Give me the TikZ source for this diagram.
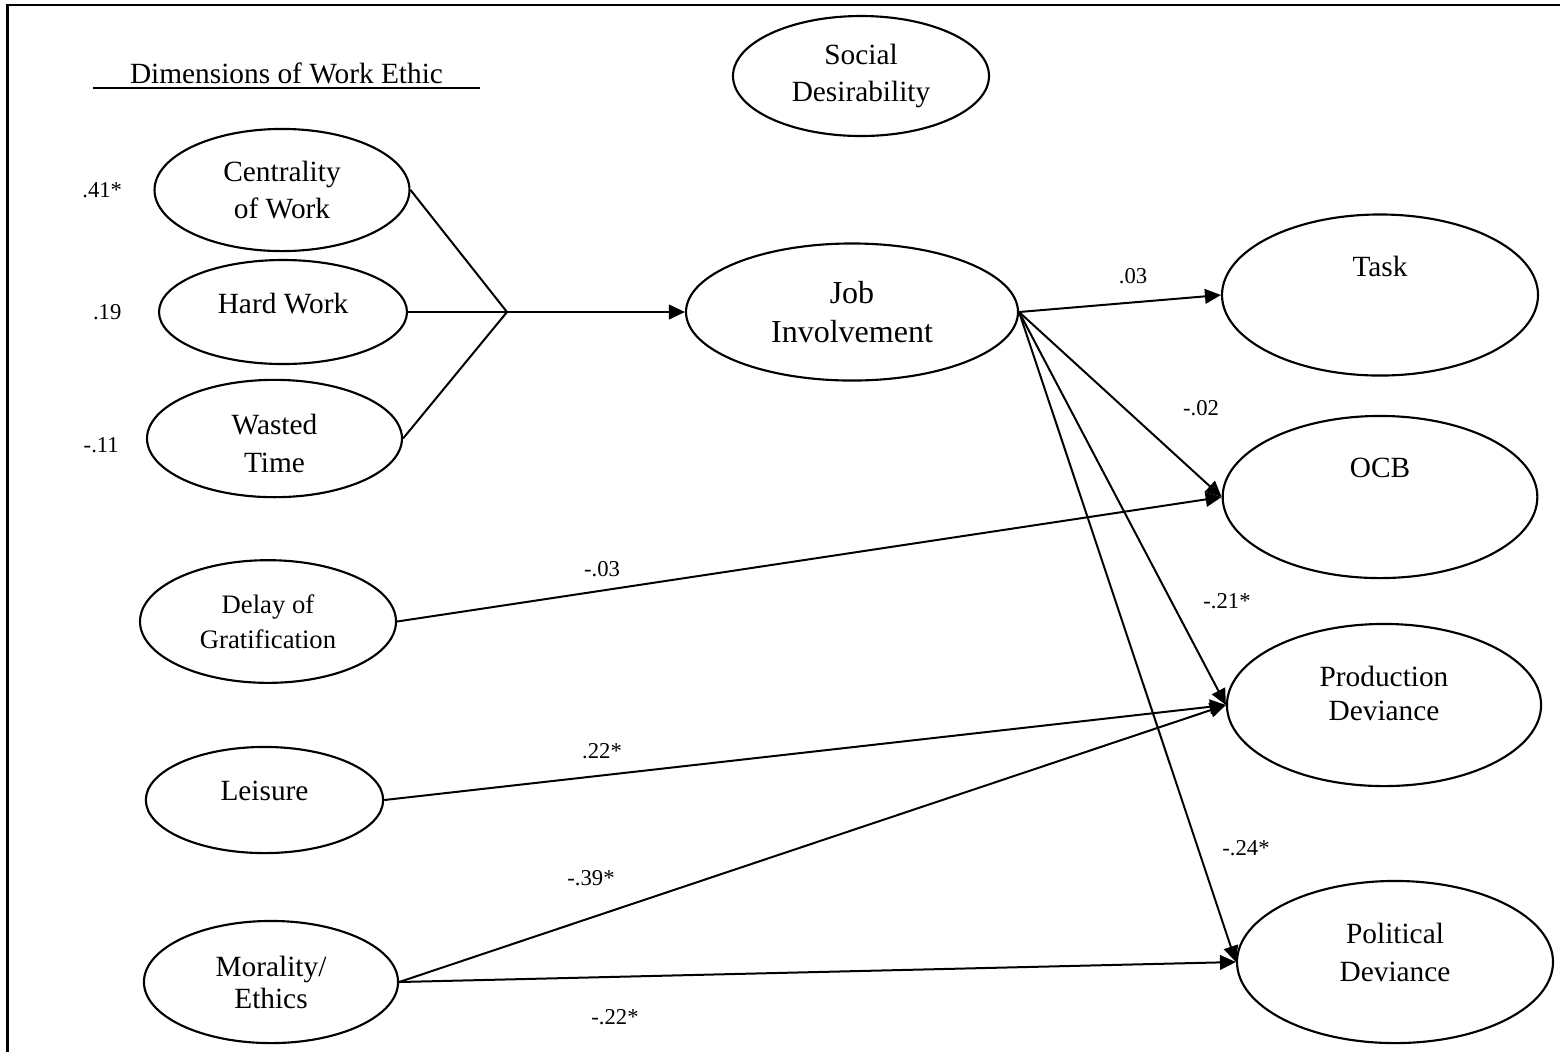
\documentclass[tikz,border=0pt]{standalone}
\usepackage{fontspec}
\setmainfont{Liberation Serif}
\usetikzlibrary{shapes.geometric,arrows.meta,positioning}

\tikzset{
    latent/.style={ellipse, draw, line width=0.8pt, inner sep=1pt, align=center,
        font=\fontsize{11}{14.2}\selectfont},
    toptext/.style={text depth=21.8pt},
    coef/.style={inner sep=0pt, font=\fontsize{8.5}{10}\selectfont},
    link/.style={line width=0.75pt},
    effect/.style={link, -{Triangle[length=6pt,width=5.5pt]}},
}

\begin{document}
\begin{tikzpicture}[x=0.375pt, y=-0.375pt]

    \useasboundingbox (0,0) rectangle (1560,1052);
    \draw[line width=1pt] (7.5,1052) -- (7.5,5) -- (1560,5); % frame

    \node[inner sep=0pt, minimum width=144.4pt, anchor=base, font=\fontsize{11}{13}\selectfont] (dims) at (286.5,83) {Dimensions of Work Ethic}; % heading
    \draw[link] ([yshift=-1.9pt]dims.base west) -- ([yshift=-1.9pt]dims.base east); % underline

    \node[latent, minimum width=96pt, minimum height=45pt] (sd) at (861,76) {Social\\Desirability}; % control

    % work ethic dimensions
    \node[latent, minimum width=95.6pt, minimum height=45.8pt] (cw) at (282,190) {Centrality\\of Work};
    \node[latent, minimum width=93pt, minimum height=39pt, text depth=6.8pt] (hw) at (283,312) {Hard Work};
    \node[latent, minimum width=95.6pt, minimum height=44pt, text height=25.6pt] (wt) at (274.5,438.5) {Wasted\\Time};
    \node[latent, minimum width=96pt, minimum height=46pt, font=\fontsize{10}{13.1}\selectfont] (dg) at (268,621.5) {Delay of\\Gratification};
    \node[latent, minimum width=89pt, minimum height=39.8pt, text depth=6.8pt] (le) at (264.5,800) {Leisure};
    \node[latent, minimum width=95.3pt, minimum height=45.8pt, font=\fontsize{11}{12}\selectfont] (me) at (271,982) {Morality/\\Ethics};

    \node[coef, left=11.6pt of cw] (l41) {.41*}; % loading centrality
    \node[coef, left=13.5pt of hw] (l19) {.19}; % loading hard work
    \node[coef, left=10pt of wt, yshift=-2.6pt] (l11) {-.11}; % loading wasted time

    % mediator
    \node[latent, minimum width=124.5pt, minimum height=51.4pt, font=\fontsize{12}{14.6}\selectfont] (ji) at (852,312) {Job\\Involvement};

    % outcomes
    \node[latent, toptext, minimum width=118.5pt, minimum height=60.4pt] (task) at (1380,295) {Task};
    \node[latent, toptext, minimum width=118pt, minimum height=60.8pt] (ocb) at (1380,497) {OCB};
    \node[latent, text depth=9pt, minimum width=117.8pt, minimum height=60.8pt, font=\fontsize{11}{12.75}\selectfont] (pd) at (1384,705) {Production\\Deviance};
    \node[latent, text depth=7.6pt, minimum width=118.5pt, minimum height=60.8pt] (pol) at (1395,962) {Political\\Deviance};

    % three dimensions join before job involvement
    \coordinate (join) at (507,312);
    \draw[link] (cw.east) -- (join);
    \draw[link] (hw.east) -- (join);
    \draw[link] (wt.east) -- (join);
    \draw[effect] (join) -- (ji.west);

    \draw[effect] (ji.east) -- (task.west);
    \draw[effect] (ji.east) -- (ocb.west);
    \draw[effect] (ji.east) -- (pd.west);
    \draw[effect] (ji.east) -- (pol.west);

    \draw[effect] (dg.east) -- (ocb.west);
    \draw[effect] (le.east) -- (pd.west);
    \draw[effect] (me.east) -- (pd.west);
    \draw[effect] (me.east) -- (pol.west);

    % path coefficients
    \node[coef] (c03) at (1133,276) {.03};
    \node[coef] (c02) at (1201,408) {-.02};
    \node[coef] (c21) at (1227,601) {-.21*};
    \node[coef] (c24) at (1246,848) {-.24*};
    \node[coef] (cdg) at (602,569) {-.03};
    \node[coef] (cle) at (602,751) {.22*};
    \node[coef] (cmp) at (591,878) {-.39*};
    \node[coef] (cmq) at (615,1017) {-.22*};

\end{tikzpicture}
\end{document}
